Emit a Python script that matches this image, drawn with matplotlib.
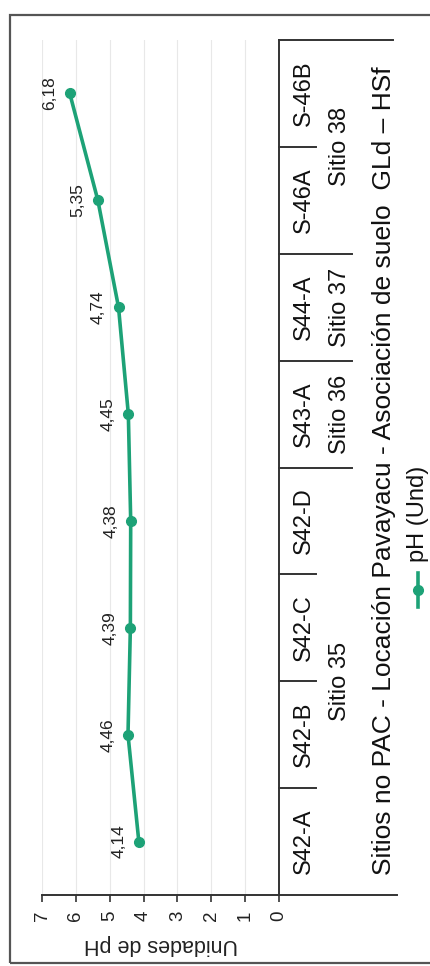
import matplotlib
matplotlib.use("Agg")
import matplotlib.pyplot as plt
from matplotlib.patches import Rectangle
from matplotlib.transforms import blended_transform_factory

plt.rcParams['font.family'] = ['Liberation Sans', 'DejaVu Sans']

categories = ["S42-A", "S42-B", "S42-C", "S42-D", "S43-A", "S44-A", "S-46A", "S-46B"]
ph_values = [4.14, 4.46, 4.39, 4.38, 4.45, 4.74, 5.35, 6.18]
value_labels = ["4,14", "4,46", "4,39", "4,38", "4,45", "4,74", "5,35", "6,18"]
groups = ["Sitio 35", "Sitio 36", "Sitio 37", "Sitio 38"]
group_sizes = [4, 1, 1, 2]
value_ticks = [0, 1, 2, 3, 4, 5, 6, 7]
title = "Sitios no PAC - Locación Pavayacu - Asociación de suelo  GLd – HSf"
axis_title = "Unidades de pH"
series_name = "pH (Und)"

GREEN = "#1da277"

fig = plt.figure(figsize=(4.3, 9.66), dpi=100)
W, H = 430, 966

def fx(px):
    return px / W

def fy(py):
    return (H - py) / H

# outer frame
fig.patches.append(Rectangle((fx(10), fy(963)), 1.2, fy(15) - fy(963),
                             transform=fig.transFigure, fill=False,
                             edgecolor="#555555", linewidth=1.6))

ax = fig.add_axes([fx(42), fy(895), fx(279) - fx(42), fy(40) - fy(895)])
ax.set_facecolor("none")

n = len(categories)
idx = list(range(n))

ax.set_xlim(7, 0)
ax.set_ylim(-0.5, n - 0.5)

ax.plot(ph_values, idx, color=GREEN, linewidth=2.6, marker="o",
        markersize=7, zorder=3)

for v, i, lab in zip(ph_values, idx, value_labels):
    ax.annotate(lab, (v, i), xytext=(-20, 0), textcoords="offset pixels",
                ha="center", va="center", rotation=90, fontsize=12.5,
                color="#222222")

ax.set_xticks(value_ticks)
ax.set_xticklabels([str(t) for t in value_ticks], rotation=90, fontsize=13.5,
                   color="#222222")
ax.tick_params(axis="x", direction="out", length=5, width=1.2, pad=6,
               color="#333333")
ax.set_yticks([])
ax.grid(axis="x", color="#e8e8e8", linewidth=0.8)
ax.set_axisbelow(True)

for s in ["top", "left"]:
    ax.spines[s].set_visible(False)
for s in ["bottom", "right"]:
    ax.spines[s].set_color("#333333")
    ax.spines[s].set_linewidth(1.4)

# axis title (rotated 180 because whole chart is turned)
ax.text(0.5, -0.058, axis_title, transform=ax.transAxes, rotation=180,
        ha="center", va="center", fontsize=15.5, color="#222222")

def axfrac(px):
    return (px - 42) / (279 - 42)

tr = blended_transform_factory(ax.transAxes, ax.transData)
line_kw = dict(color="#333333", linewidth=1.4, clip_on=False, transform=tr)

group_bounds = []
acc = 0
for g in group_sizes:
    acc += g
    group_bounds.append(acc)

for k in range(1, n):
    yb = k - 0.5
    x_end = axfrac(352) if k in group_bounds else axfrac(316)
    ax.plot([1.0, x_end], [yb, yb], **line_kw)
ax.plot([1.0, axfrac(393)], [n - 0.5, n - 0.5], **line_kw)
ax.plot([1.0, axfrac(397)], [-0.5, -0.5], **line_kw)

for i, c in zip(idx, categories):
    ax.text(axfrac(304), i, c, transform=tr, rotation=90, ha="center",
            va="center", fontsize=17, color="#111111")

start = 0
for g, sz in zip(groups, group_sizes):
    center = start + (sz - 1) / 2
    ax.text(axfrac(340), center, g, transform=tr, rotation=90, ha="center",
            va="center", fontsize=17, color="#111111")
    start += sz

ax.text(axfrac(384), (n - 1) / 2 - 0.03, title, transform=tr, rotation=90,
        ha="center", va="center", fontsize=19, color="#111111")

# legend (drawn rotated)
lx = axfrac(418)
def ayfrac(py):
    return (895 - py) / (895 - 40)
ax.plot([lx, lx], [ayfrac(607), ayfrac(573)], color=GREEN, linewidth=2.6,
        transform=ax.transAxes, clip_on=False)
ax.plot([lx], [ayfrac(590)], color=GREEN, marker="o", markersize=7,
        transform=ax.transAxes, clip_on=False)
ax.text(lx, ayfrac(562), series_name, transform=ax.transAxes, rotation=90,
        ha="center", va="bottom", fontsize=17, color="#111111")

fig.savefig("out.png", dpi=100)
